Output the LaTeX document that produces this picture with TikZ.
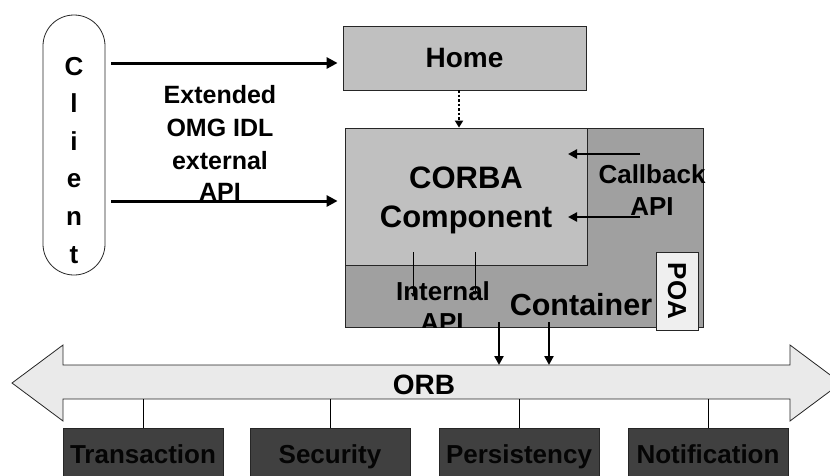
\documentclass[tikz,border=0pt]{standalone}
\usepackage{fontspec}
\setmainfont{Liberation Sans}
\usetikzlibrary{arrows.meta}

\definecolor{boxgray}{HTML}{C0C0C0}
\definecolor{contgray}{HTML}{A0A0A0}
\definecolor{poagray}{HTML}{EFEFEF}
\definecolor{orbgray}{HTML}{EAEAEA}
\definecolor{svcgray}{HTML}{404040}
\definecolor{svctext}{HTML}{050505}

\begin{document}
\begin{tikzpicture}[x=1pt,y=-1pt,
  lbl/.style={font=\bfseries\fontsize{#1}{#1}\selectfont, inner sep=0pt, anchor=base, text=black},
  boxline/.style={draw=black!85, line width=0.8pt},
  bigarr/.style={line width=3pt, -{Triangle[length=11pt,width=11pt]}},
  midarr/.style={line width=2.5pt, -{Triangle[length=9pt,width=9pt]}},
  thinarr/.style={line width=0.7pt, -{Triangle[length=4pt,width=4pt]}},
  dotarr/.style={line width=2.8pt, dash pattern=on 2.5pt off 2pt, -{Triangle[length=7pt,width=8pt]}},
  svcbox/.style={boxline, fill=svcgray, minimum width=160pt, minimum height=52pt, inner sep=0pt,
    text=svctext, text height=19pt, text depth=0pt, font=\bfseries\fontsize{26}{26}\selectfont}]

\useasboundingbox (0,0) rectangle (830,475);
\clip (0,0) rectangle (830,475);

% client capsule with its letters stacked vertically
\node[boxline, fill=white, rounded corners=30.9pt, minimum width=62pt, minimum height=260pt, inner sep=0pt] (client) at (74,145) {};
\foreach \ch/\yy [count=\i] in {C/75,l/112.6,i/150.2,e/187.8,n/225.4,t/263}
  \node[lbl=26] (cl\i) at (74,\yy) {\ch};

% home
\node[boxline, fill=boxgray, minimum width=243pt, minimum height=64pt, inner sep=0pt,
      font=\bfseries\fontsize{28}{28}\selectfont] (home) at (464.5,58) {Home};

% container and component
\node[boxline, fill=contgray, minimum width=358pt, minimum height=199pt, inner sep=0pt] (cont) at (524,227.5) {};
\node[boxline, fill=boxgray, minimum width=242pt, minimum height=137pt, inner sep=0pt] (comp) at (466,196.5) {};
\node[lbl=31] (corba) at (466,188) {CORBA};
\node[lbl=31] (component) at (466,227) {Component};

% POA
\node[boxline, fill=poagray, minimum width=42pt, minimum height=78pt, inner sep=0pt] (poa) at (677,291) {};
\node[font=\bfseries\fontsize{26}{26}\selectfont, inner sep=0pt, rotate=-90] (poatxt) at (poa.center) {POA};

% external API label
\node[lbl=25] (ext1) at (220,103) {Extended};
\node[lbl=25] (ext2) at (220,136) {OMG IDL};
\node[lbl=25] (ext3) at (220,169) {external};
\node[lbl=25] (ext4) at (220,200) {API};

% client calls
\coordinate (c1s) at (111,63);
\coordinate (c2s) at (111,201);
\draw[bigarr, shorten >=5pt] (c1s) -- (c1s -| home.west);
\draw[bigarr, shorten >=7pt] (c2s) -- (c2s -| comp.west);

% home to component
\coordinate (hd) at (459,90);
\draw[dotarr] (hd) -- (hd |- comp.north);

% callback API
\node[lbl=26] (cb1) at (652,183) {Callback};
\node[lbl=26] (cb2) at (652,215) {API};
\coordinate (cbA) at (640,154);
\coordinate (cbB) at (640,217);
\draw[midarr] (cbA) -- (568,154);
\draw[midarr] (cbB) -- (568,217);

% internal API
\coordinate (ia1) at (413,252);
\coordinate (ia2) at (475,252);
\begin{scope}
  \clip (cont.north west) rectangle (cont.south east);
  \node[lbl=26] (int1) at (443,300) {Internal};
  \node[lbl=26] (int2) at (442,331) {API};
\end{scope}
\draw[thinarr] (ia1) -- (413,297);
\draw[thinarr] (ia2) -- (475,295);

\node[lbl=30.5] (contlbl) at (581,315) {Container};

% ORB bus
\draw[boxline, fill=orbgray, line join=miter]
  (12,383) -- (63,345) -- (63,365) -- (790,365) -- (790,345) -- (841,383)
  -- (790,421) -- (790,399) -- (63,399) -- (63,421) -- cycle;
\coordinate (orbtop) at (424,365);
\coordinate (orbbot) at (424,399);
\node[lbl=28] (orb) at (424,394) {ORB};

% container to ORB
\coordinate (d1) at (499,322);
\coordinate (d2) at (549,322);
\draw[midarr] (d1) -- (d1 |- orbtop);
\draw[midarr] (d2) -- (d2 |- orbtop);

% services
\node[svcbox] (tx) at (143,454) {Transaction};
\node[svcbox] (sec) at (330,454) {Security};
\node[svcbox] (pers) at (519,454) {Persistency};
\node[svcbox] (notif) at (708,454) {Notification};
\foreach \s in {tx,sec,pers,notif}
  \draw[line width=0.8pt] (\s.north) -- (\s.north |- orbbot);

\end{tikzpicture}
\end{document}
